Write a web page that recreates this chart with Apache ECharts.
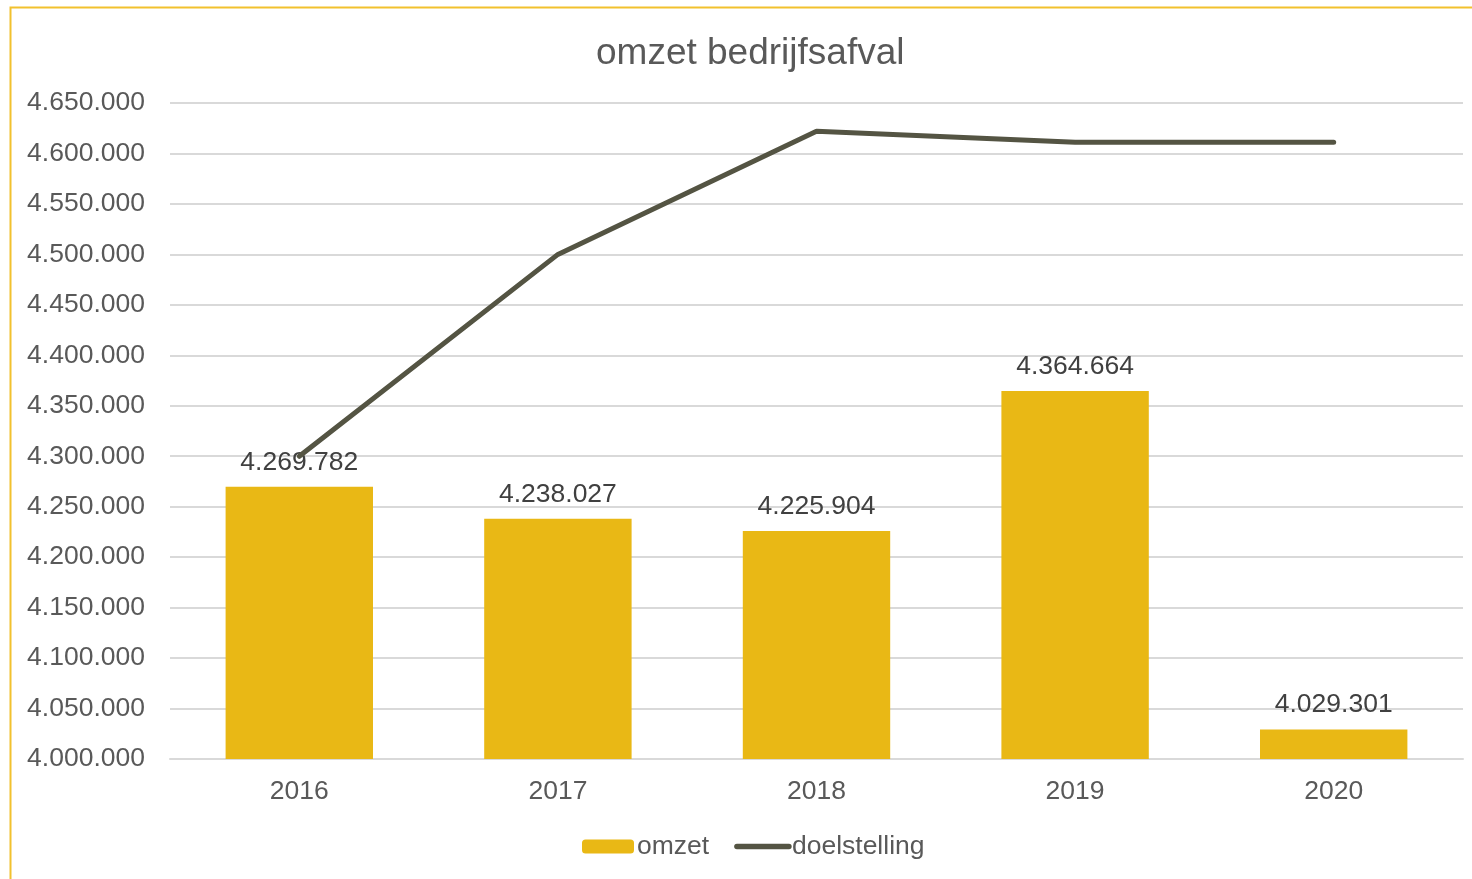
<!DOCTYPE html>
<html>
<head>
<meta charset="utf-8">
<script src="https://cdn.jsdelivr.net/npm/echarts@6/dist/echarts.min.js"></script>
<style>html,body{margin:0;padding:0;background:#fff;}#c{width:1472px;height:879px;}</style>
</head>
<body>
<div id="c"></div>
<script>
var categories = ['2016', '2017', '2018', '2019', '2020'];
var omzet = [4269782, 4238027, 4225904, 4364664, 4029301];
var doelstelling = [4300000, 4500000, 4622000, 4611000, 4611000];
var yMin = 4000000, yMax = 4650000, yStep = 50000;

function fmt(v) {
  return String(Math.round(v)).replace(/\B(?=(\d{3})+(?!\d))/g, '.');
}

var FONT = 'Liberation Sans, Arial, sans-serif';
var chart = echarts.init(document.getElementById('c'));
chart.setOption({
  animation: false,
  backgroundColor: '#fff',
  textStyle: { fontFamily: FONT },
  graphic: [{
    type: 'rect',
    shape: { x: 10.5, y: 7.5, width: 1500, height: 900 },
    style: { fill: 'none', stroke: '#F2C12E', lineWidth: 2 },
    silent: true
  }],
  title: {
    text: 'omzet bedrijfsafval',
    left: 591,
    top: 30,
    textStyle: { fontSize: 37, fontWeight: 'normal', color: '#595959', fontFamily: FONT }
  },
  legend: {
    bottom: 14,
    left: 577,
    itemWidth: 52,
    itemHeight: 14,
    itemGap: 25,
    textStyle: { fontSize: 26.5, color: '#595959', padding: [0, 0, 0, -2] },
    data: [
      { name: 'omzet' },
      { name: 'doelstelling', itemStyle: { opacity: 0 }, lineStyle: { width: 5.5, cap: 'round', color: '#545443' } }
    ]
  },
  grid: { left: 170, right: 9, top: 103, bottom: 120 },
  xAxis: {
    type: 'category',
    data: categories,
    axisLine: { lineStyle: { color: '#D9D9D9', width: 2 } },
    axisTick: { show: false },
    axisLabel: { fontSize: 26.5, color: '#595959', margin: 19 }
  },
  yAxis: {
    type: 'value',
    min: yMin,
    max: yMax,
    interval: yStep,
    axisLine: { show: false },
    axisTick: { show: false },
    splitLine: { lineStyle: { color: '#D9D9D9', width: 2 } },
    axisLabel: { fontSize: 26.5, color: '#595959', margin: 25, padding: [4, 0, 0, 0], formatter: fmt }
  },
  series: [{
    name: 'omzet',
    type: 'bar',
    data: omzet,
    barWidth: '57%',
    itemStyle: { color: '#E9B815' },
    label: {
      show: true,
      position: 'top',
      distance: 11,
      fontSize: 26.5,
      color: '#404040',
      formatter: function (p) { return fmt(p.value); }
    },
    z: 2
  }, {
    name: 'doelstelling',
    type: 'line',
    data: doelstelling,
    symbol: 'none',
    lineStyle: { color: '#545443', width: 5, cap: 'round' },
    itemStyle: { color: '#545443' },
    z: 3
  }]
});
</script>
</body>
</html>
